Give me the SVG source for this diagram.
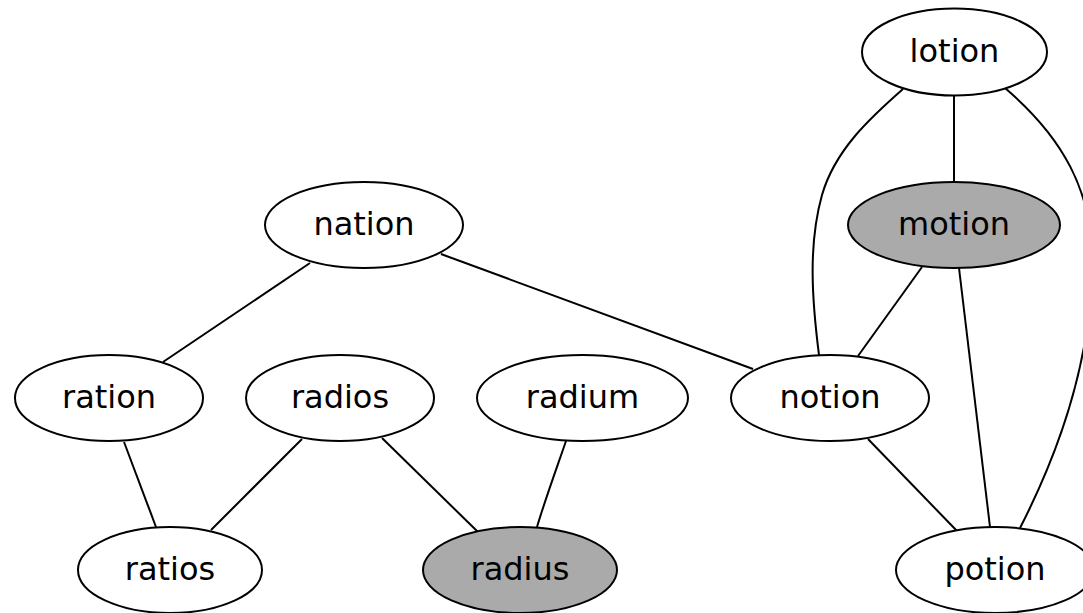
<svg xmlns="http://www.w3.org/2000/svg" width="1083" height="613" viewBox="0 0 1083 613">
<style>
.node ellipse{fill:#ffffff;stroke:#000;stroke-width:2}
.node.hl ellipse{fill:#aaaaaa}
.node text{font-family:"DejaVu Sans",sans-serif;font-size:32px;text-anchor:middle;fill:#000}
#edges path{fill:none;stroke:#000;stroke-width:2}
</style>
<rect width="1083" height="613" fill="#ffffff"/>
<g id="edges">
<path d="M954,96 L954,182"/>
<path d="M903,89 C870,118 835,150 822,195 C808,245 812,300 819,355"/>
<path d="M1005,88 C1060,135 1095,190 1092,270 C1090,360 1060,450 1020,528"/>
<path d="M922,267 L858,356"/>
<path d="M959,268 L990,527"/>
<path d="M310,263 L163,362"/>
<path d="M441,254 L753,369"/>
<path d="M868,439 L957,531"/>
<path d="M124,442 L156,527"/>
<path d="M302,439 L211,530"/>
<path d="M382,438 L478,532"/>
<path d="M566,441 C556,470 545,500 537,527"/>
</g>
<g id="lotion" class="node"><ellipse cx="954.5" cy="52" rx="92.5" ry="43.5"/><text x="954.5" y="62">lotion</text></g>
<g id="motion" class="node hl"><ellipse cx="954" cy="225" rx="106" ry="43"/><text x="954" y="235">motion</text></g>
<g id="nation" class="node"><ellipse cx="364" cy="225" rx="99" ry="43"/><text x="364" y="235">nation</text></g>
<g id="ration" class="node"><ellipse cx="109" cy="398" rx="94" ry="43"/><text x="109" y="408">ration</text></g>
<g id="radios" class="node"><ellipse cx="340" cy="398" rx="94" ry="43"/><text x="340" y="408">radios</text></g>
<g id="radium" class="node"><ellipse cx="582.5" cy="398" rx="105.5" ry="43"/><text x="582.5" y="408">radium</text></g>
<g id="notion" class="node"><ellipse cx="830" cy="398" rx="99" ry="43"/><text x="830" y="408">notion</text></g>
<g id="ratios" class="node"><ellipse cx="170" cy="570" rx="92" ry="43"/><text x="170" y="580">ratios</text></g>
<g id="radius" class="node hl"><ellipse cx="520" cy="570" rx="97" ry="43"/><text x="520" y="580">radius</text></g>
<g id="potion" class="node"><ellipse cx="995" cy="570" rx="99" ry="43"/><text x="995" y="580">potion</text></g>
</svg>
